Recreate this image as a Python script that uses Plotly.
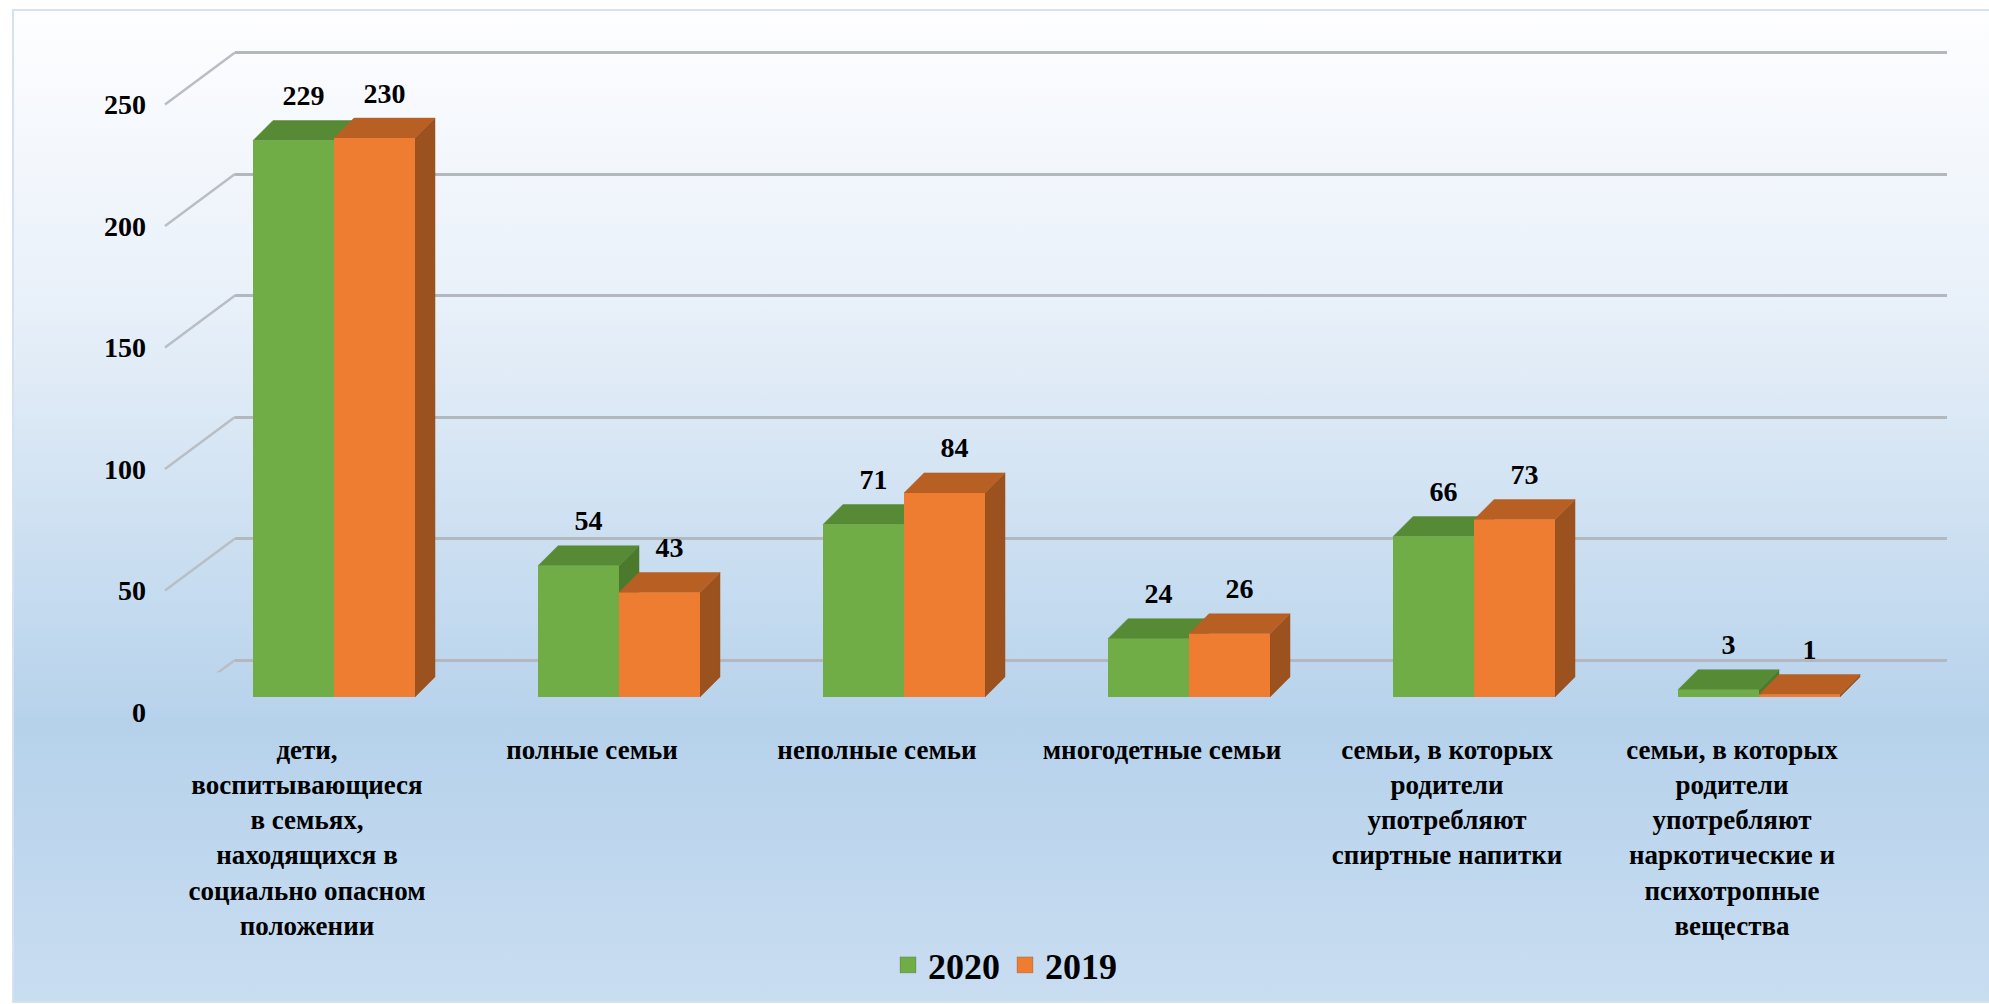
import base64
import plotly.graph_objects as go

# ---------------- data ----------------
categories = [
    "дети,<br>воспитывающиеся<br>в семьях,<br>находящихся в<br>социально опасном<br>положении",
    "полные семьи",
    "неполные семьи",
    "многодетные семьи",
    "семьи, в которых<br>родители<br>употребляют<br>спиртные напитки",
    "семьи, в которых<br>родители<br>употребляют<br>наркотические и<br>психотропные<br>вещества",
]
series_names = ["2020", "2019"]
values_2020 = [229, 54, 71, 24, 66, 3]
values_2019 = [230, 43, 84, 26, 73, 1]
y_ticks = [0, 50, 100, 150, 200, 250]

# ---------------- layout constants (pixels) ----------------
W, H = 1989, 1004
K = 2.43            # px per value unit
UX = 285.0          # px per category
X0 = 191.5          # left edge of category band
ZERO_BARS = 697     # pixel row of value 0 on the bar front plane
ZERO_GRID = 660     # pixel row of value 0 on the back wall
ZERO_LAB = 712      # pixel row of value 0 for the tick labels
RMIN, RMAX = -5, 268
BAR_W = 81 / UX
DX = 20 / UX
DY = 20 / K
LABEL_SHIFT = 27 / UX
FONT = "Liberation Serif"

GREEN = "#70ad47"
GREEN_TOP = "#568a34"
GREEN_SIDE = "#4b7a2d"
ORANGE = "#ee7d31"
ORANGE_TOP = "#b85f24"
ORANGE_SIDE = "#9b521f"


def ydom(zero_px):
    bottom = zero_px - RMIN * K
    top = zero_px - RMAX * K
    return [1 - bottom / H, 1 - top / H]


def px_x(p):
    return p / W


fig = go.Figure()

# ----- 3D faces (behind the fronts) -----
def faces(vals, left_offset, top_col, side_col):
    tx, ty, sx, sy = [], [], [], []
    for i, v in enumerate(vals):
        xl = i + left_offset
        xr = xl + BAR_W
        tx += [xl, xl + DX, xr + DX, xr, xl, None]
        ty += [v, v + DY, v + DY, v, v, None]
        sx += [xr, xr + DX, xr + DX, xr, xr, None]
        sy += [0, DY, v + DY, v, 0, None]
    for xs, ys, col in ((sx, sy, side_col), (tx, ty, top_col)):
        fig.add_trace(go.Scatter(
            x=xs, y=ys, mode="lines", fill="toself", fillcolor=col,
            line=dict(width=0.5, color=col), xaxis="x2", yaxis="y2",
            showlegend=False, hoverinfo="skip"))


faces(values_2020, -BAR_W, GREEN_TOP, GREEN_SIDE)
faces(values_2019, 0.0, ORANGE_TOP, ORANGE_SIDE)

idx = list(range(len(categories)))

# ----- bar fronts -----
for name, vals, col, off in ((series_names[0], values_2020, GREEN, -BAR_W),
                             (series_names[1], values_2019, ORANGE, 0.0)):
    fig.add_trace(go.Bar(
        x=idx, y=vals, name=name, width=BAR_W, offset=off,
        marker=dict(color=col, line=dict(width=0)),
        xaxis="x2", yaxis="y3", hoverinfo="skip", showlegend=False,
        legendgroup=name))

# ----- legend entries (square keys) -----
for name, col in ((series_names[0], GREEN), (series_names[1], ORANGE)):
    fig.add_trace(go.Scatter(
        x=[None], y=[None], mode="markers", name=name, legendgroup=name,
        marker=dict(symbol="square", size=19, color=col,
                    line=dict(width=1, color="rgba(0,0,0,0.15)")),
        xaxis="x2", yaxis="y3", hoverinfo="skip"))

# ----- value labels -----
for vals, off in ((values_2020, -BAR_W), (values_2019, 0.0)):
    fig.add_trace(go.Scatter(
        x=[i + off + BAR_W / 2 + DX / 2 for i in idx],
        y=[v + 17.5 for v in vals],
        text=[str(v) for v in vals], mode="text",
        textfont=dict(family=FONT, size=28, color="black", weight="bold"),
        xaxis="x2", yaxis="y3", showlegend=False, hoverinfo="skip",
        cliponaxis=False))

# ----- dummy traces to hold the gridline and label axes -----
fig.add_trace(go.Scatter(x=[0.5], y=[0], mode="markers", marker=dict(opacity=0),
                         xaxis="x", yaxis="y", showlegend=False, hoverinfo="skip"))
fig.add_trace(go.Scatter(x=[0], y=[0], mode="markers", marker=dict(opacity=0),
                         xaxis="x2", yaxis="y4", showlegend=False, hoverinfo="skip"))

# ----- background gradient -----
svg = (
    f'<svg xmlns="http://www.w3.org/2000/svg" width="{W}" height="{H}" '
    f'viewBox="0 0 {W} {H}" preserveAspectRatio="none">'
    '<defs><linearGradient id="g" x1="0" y1="0" x2="0" y2="1">'
    '<stop offset="0" stop-color="#fefeff"/>'
    '<stop offset="0.3" stop-color="#e8f0f9"/>'
    '<stop offset="0.72" stop-color="#b6d2eb"/>'
    '<stop offset="1" stop-color="#c9ddf1"/>'
    '</linearGradient></defs>'
    f'<rect x="13" y="10" width="{W}" height="{H - 12}" fill="url(#g)" '
    'stroke="#d6e2f0" stroke-width="2"/></svg>'
)
bg = "data:image/svg+xml;base64," + base64.b64encode(svg.encode()).decode()

# ----- wall diagonals -----
shapes = []
for v in y_ticks:
    shapes.append(dict(
        type="line", xref="paper", yref="y",
        x0=px_x(165), y0=v - (ZERO_LAB - ZERO_GRID) / K,
        x1=px_x(235), y1=v,
        line=dict(color="#b9bec4", width=2.5), layer="below"))

fig.update_layout(
    width=W, height=H,
    margin=dict(l=0, r=0, t=0, b=0, autoexpand=False),
    paper_bgcolor="white", plot_bgcolor="rgba(0,0,0,0)",
    font=dict(family=FONT, color="black"),
    images=[dict(source=bg, xref="paper", yref="paper", x=0, y=1,
                 sizex=1, sizey=1, sizing="stretch", layer="below",
                 xanchor="left", yanchor="top")],
    shapes=shapes,
    barmode="overlay",
    hovermode=False,
    showlegend=True,
    legend=dict(orientation="h", x=px_x(1005), xanchor="center",
                y=1 - 965 / H, yanchor="middle",
                font=dict(family=FONT, size=36, color="black", weight="bold"),
                bgcolor="rgba(0,0,0,0)", itemwidth=30, traceorder="normal"),
    # gridline (back wall) subplot
    xaxis=dict(domain=[px_x(235), px_x(1947)], range=[0, 1], visible=False,
               fixedrange=True),
    yaxis=dict(domain=ydom(ZERO_GRID), range=[RMIN, RMAX], anchor="x",
               tickvals=y_ticks, showticklabels=False, showgrid=True,
               gridcolor="#b3b8be", gridwidth=3, zeroline=False,
               showline=False, ticks="", fixedrange=True),
    # bar subplot
    xaxis2=dict(domain=[px_x(X0), px_x(X0 + 6 * UX)], range=[-0.5, 5.5],
                anchor="y2", tickvals=[i - LABEL_SHIFT for i in idx],
                ticktext=categories, tickangle=0,
                tickfont=dict(family=FONT, size=27, color="black", weight="bold"),
                ticks="", ticklabelstandoff=22, showgrid=False, zeroline=False,
                showline=False, fixedrange=True),
    yaxis2=dict(domain=ydom(ZERO_BARS), range=[RMIN, RMAX], anchor="x2",
                visible=False, showgrid=False, zeroline=False, fixedrange=True),
    yaxis3=dict(overlaying="y2", range=[RMIN, RMAX], anchor="x2",
                visible=False, showgrid=False, zeroline=False, fixedrange=True),
    # tick label axis
    yaxis4=dict(domain=ydom(ZERO_LAB), range=[RMIN, RMAX], anchor="free",
                position=px_x(146), side="left", tickvals=y_ticks,
                ticktext=[str(t) for t in y_ticks],
                tickfont=dict(family=FONT, size=28, color="black", weight="bold"),
                showgrid=False, zeroline=False, showline=False, ticks="",
                fixedrange=True),
)

fig.write_html(
    "out.html",
    config={"displayModeBar": False, "staticPlot": True},
    post_script="document.body.style.margin='0';document.body.style.overflow='hidden';",
)
